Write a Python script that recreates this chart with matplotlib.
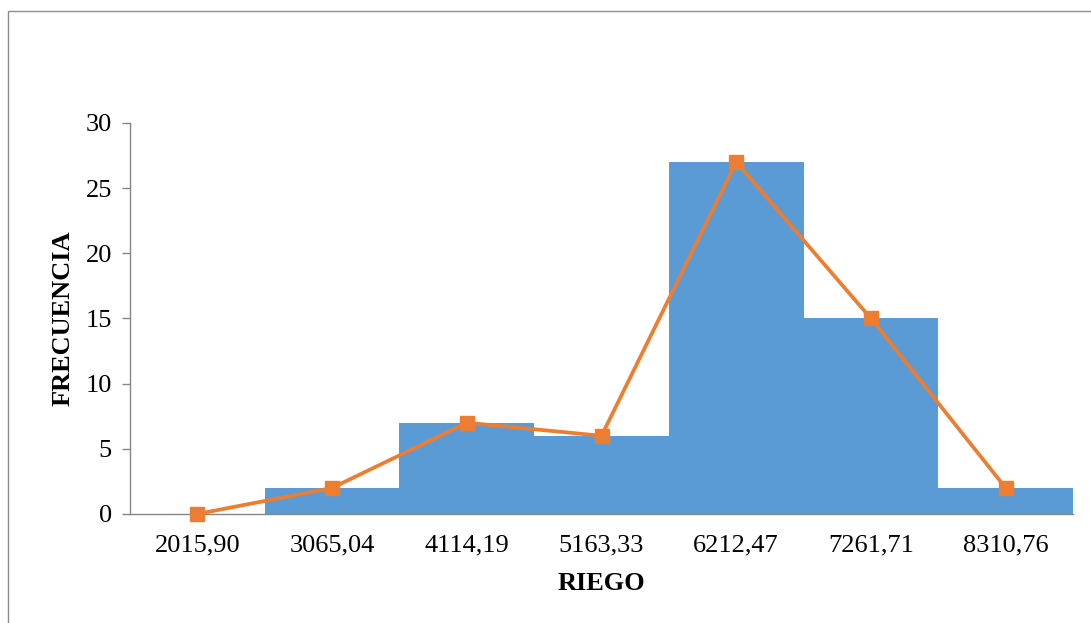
import matplotlib.pyplot as plt
from matplotlib.patches import Rectangle
import numpy as np

# Frequency table for irrigation (class marks and counts)
class_marks = ["2015,90", "3065,04", "4114,19", "5163,33", "6212,47", "7261,71", "8310,76"]
frequencies = [0, 2, 7, 6, 27, 15, 2]
y_ticks = [0, 5, 10, 15, 20, 25, 30]

BAR_COLOR = "#5B9BD5"
LINE_COLOR = "#ED7D31"
AXIS_COLOR = "#868686"

plt.rcParams['font.family'] = ['Liberation Serif', 'DejaVu Serif']

fig = plt.figure(figsize=(10.91, 6.23), dpi=100)
ax = fig.add_axes([0.1192, 0.1750, 0.8643, 0.6276])

x = np.arange(len(class_marks))

# Histogram bars (no gap) with the frequency polygon on top
ax.bar(x, frequencies, width=1.0, color=BAR_COLOR, edgecolor="none", zorder=2)
ax.plot(x, frequencies, color=LINE_COLOR, linewidth=2.7, marker="s",
        markersize=10, markerfacecolor=LINE_COLOR, markeredgecolor=LINE_COLOR,
        zorder=3, clip_on=False)

ax.set_xlim(-0.5, len(class_marks) - 0.5)
ax.set_ylim(0, 30)
ax.set_yticks(y_ticks)
ax.set_xticks(x)
ax.set_xticklabels(class_marks)

for side in ("top", "right"):
    ax.spines[side].set_visible(False)
for side in ("left", "bottom"):
    ax.spines[side].set_color(AXIS_COLOR)
    ax.spines[side].set_linewidth(1.0)

ax.tick_params(axis="y", direction="out", length=6, width=1.0, color=AXIS_COLOR,
               labelsize=19, pad=7)
ax.tick_params(axis="x", length=0, labelsize=19, pad=15)

ax.set_ylabel("FRECUENCIA", fontsize=19, fontweight="bold", labelpad=8)
ax.set_xlabel("RIEGO", fontsize=19, fontweight="bold", labelpad=11)

# Light outer frame of the chart area
frame = Rectangle((8 / 1091, -0.05), 1.1, 1 - 11 / 623 + 0.05,
                  transform=fig.transFigure, fill=False,
                  edgecolor="#8C8C8C", linewidth=1.0, clip_on=False)
fig.patches.append(frame)

fig.savefig("out.png", dpi=100)
